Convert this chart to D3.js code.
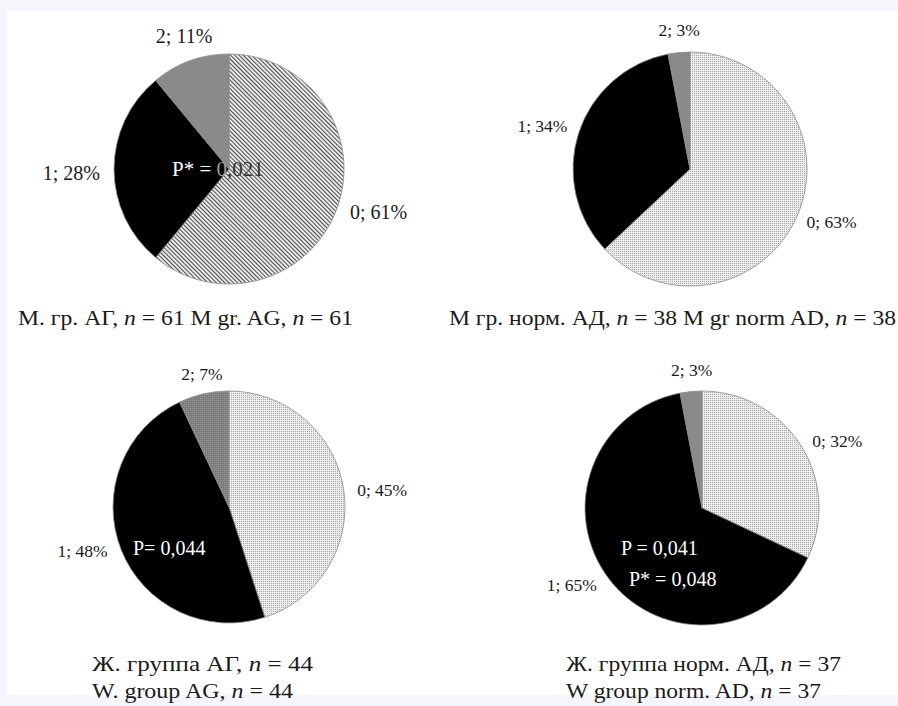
<!DOCTYPE html>
<html>
<head>
<meta charset="utf-8">
<script src="https://cdn.jsdelivr.net/npm/d3@7"></script>
<style>
  html, body { margin: 0; padding: 0; background: #f5f6fb; }
  svg { display: block; }
  text, tspan { font-family: "Liberation Serif", "Times New Roman", serif; }
</style>
</head>
<body>
<svg id="chart" width="898" height="706"></svg>
<script>
// ---------- DATA ----------
const categories = ["0", "1", "2"];
const valuesMenAG = [61, 28, 11];
const valuesMenNorm = [63, 34, 3];
const valuesWomenAG = [45, 48, 7];
const valuesWomenNorm = [32, 65, 3];

const captionMenAG = ["М. гр. АГ, *n* = 61 M gr. AG, *n* = 61"];
const captionMenNorm = ["М гр. норм. АД, *n* = 38 M gr norm AD, *n* = 38"];
const captionWomenAG = ["Ж. группа АГ, *n* = 44", "W. group AG, *n* = 44"];
const captionWomenNorm = ["Ж. группа норм. АД, *n* = 37", "W group norm. AD, *n* = 37"];

const pMenAG = ["P* = ", "0", ",021"];
const pWomenAG = ["P= 0,044"];
const pWomenNorm1 = ["P = 0,041"];
const pWomenNorm2 = ["P* = 0,048"];

// ---------- LAYOUT / STYLE ----------
const FONT = "'Liberation Serif', 'Times New Roman', serif";
const svg = d3.select("#chart");
const defs = svg.append("defs");

svg.append("rect").attr("x", 0).attr("y", 0).attr("width", 898).attr("height", 706).attr("fill", "#f5f6fb");
svg.append("rect").attr("x", 7).attr("y", 11).attr("width", 891).attr("height", 684).attr("fill", "#ffffff");

// patterns
const hatch = defs.append("pattern").attr("id", "hatch")
  .attr("patternUnits", "userSpaceOnUse").attr("width", 3).attr("height", 3)
  .attr("patternTransform", "rotate(-45)");
hatch.append("rect").attr("width", 3).attr("height", 3).attr("fill", "#f2f2f2");
hatch.append("rect").attr("width", 1.1).attr("height", 3).attr("fill", "#4a4a4a");

const dots = defs.append("pattern").attr("id", "dots")
  .attr("patternUnits", "userSpaceOnUse").attr("width", 2).attr("height", 2);
dots.append("rect").attr("width", 2).attr("height", 2).attr("fill", "#eeeeee");
dots.append("rect").attr("width", 1).attr("height", 1).attr("fill", "#a4a4a4");

const grayDots = defs.append("pattern").attr("id", "grayDots")
  .attr("patternUnits", "userSpaceOnUse").attr("width", 2).attr("height", 2);
grayDots.append("rect").attr("width", 2).attr("height", 2).attr("fill", "#8a8a8a");
grayDots.append("rect").attr("width", 1).attr("height", 1).attr("fill", "#6e6e6e");

const panels = [
  { values: valuesMenAG, cx: 229, cy: 169, r: 115, labelSize: 20,
    fills: ["url(#hatch)", "#000000", "#8a8a8a"],
    nudges: [[5, -1], [-4, 4], [7, -8]],
    caption: captionMenAG, capDx: -211, capDy: 156, capLens: [335],
    notes: [{ parts: pMenAG, colors: ["#ffffff", "#9c9c9c", "#333333"], dx: -57, dy: 7, size: 21 }] },
  { values: valuesMenNorm, cx: 690, cy: 169, r: 117, labelSize: 17.5,
    fills: ["url(#dots)", "#000000", "#8a8a8a"],
    nudges: [[2, 0], [-3, -1], [3, -5]],
    caption: captionMenNorm, capDx: -241, capDy: 156, capLens: [447],
    notes: [] },
  { values: valuesWomenAG, cx: 229, cy: 507, r: 116, labelSize: 17.5,
    fills: ["url(#dots)", "#000000", "url(#grayDots)"],
    nudges: [[4, 4], [-6, -5], [5, -3]],
    caption: captionWomenAG, capDx: -137, capDy: 164, capLens: [221, 201],
    notes: [{ parts: pWomenAG, colors: ["#ffffff"], dx: -96, dy: 48, size: 20 }] },
  { values: valuesWomenNorm, cx: 702, cy: 508, r: 117, labelSize: 17.5,
    fills: ["url(#dots)", "#000000", "#8a8a8a"],
    nudges: [[7, 5], [-10, -5], [3.5, -4.5]],
    caption: captionWomenNorm, capDx: -136, capDy: 163, capLens: [275, 255],
    notes: [{ parts: pWomenNorm1, colors: ["#ffffff"], dx: -81, dy: 47, size: 20 },
            { parts: pWomenNorm2, colors: ["#ffffff"], dx: -73, dy: 78, size: 20 }] }
];

const captionSize = 21;

panels.forEach(p => {
  const g = svg.append("g").attr("transform", `translate(${p.cx},${p.cy})`);
  const pie = d3.pie().sort(null).value(d => d.v);
  const data = pie(categories.map((c, i) => ({ c, v: p.values[i] })));
  const arc = d3.arc().innerRadius(0).outerRadius(p.r);

  g.selectAll("path.slice").data(data).join("path")
    .attr("class", "slice")
    .attr("d", arc)
    .attr("fill", (d, i) => p.fills[i])
    .attr("stroke", "#8c8c8c")
    .attr("stroke-width", 0.8);

  // outside labels
  const gap = 10;
  data.forEach((d, i) => {
    const mid = (d.startAngle + d.endAngle) / 2;
    const dx = Math.sin(mid), dy = -Math.cos(mid);
    const t = g.append("text")
      .attr("font-family", FONT)
      .attr("font-size", p.labelSize)
      .attr("fill", "#1a1a1a")
      .attr("text-anchor", "middle")
      .text(`${d.data.c}; ${d.data.v}%`);
    const w = t.node().getComputedTextLength();
    const h = 14;
    const x = dx * (p.r + gap) + dx * w / 2 + p.nudges[i][0];
    const y = dy * (p.r + gap) + dy * h / 2 + p.nudges[i][1];
    t.attr("x", x).attr("y", y + p.labelSize * 0.33);
  });

  // in-pie notes
  p.notes.forEach(n => {
    const t = g.append("text").attr("x", n.dx).attr("y", n.dy)
      .attr("font-family", FONT).attr("font-size", n.size);
    n.parts.forEach((s, k) => t.append("tspan")
      .attr("font-family", FONT).attr("fill", n.colors[k]).text(s));
  });

  // caption
  p.caption.forEach((line, li) => {
    const t = g.append("text")
      .attr("x", p.capDx).attr("y", p.capDy + li * 27)
      .attr("font-family", FONT)
      .attr("font-size", captionSize).attr("fill", "#1a1a1a")
      .attr("textLength", p.capLens[li]).attr("lengthAdjust", "spacingAndGlyphs");
    line.split("*").forEach((s, k) => {
      t.append("tspan").attr("font-family", FONT)
        .attr("font-style", k % 2 === 1 ? "italic" : "normal").text(s);
    });
  });
});
</script>
</body>
</html>
